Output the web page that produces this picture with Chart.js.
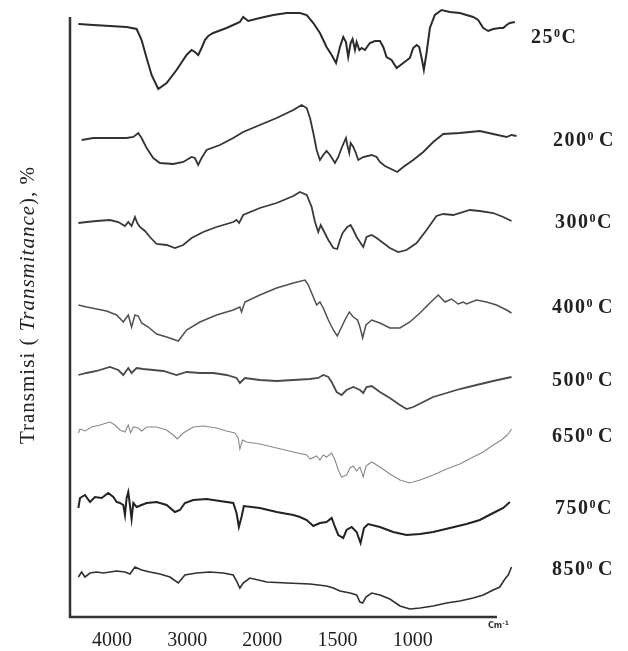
<!DOCTYPE html>
<html><head><meta charset="utf-8">
<script src="https://cdn.jsdelivr.net/npm/chart.js@4.4.0/dist/chart.umd.min.js"></script>
<style>html,body{margin:0;padding:0;background:#fff;}#wrap{width:628px;height:651px;}</style>
</head><body><div id="wrap"><canvas id="c" width="628" height="651"></canvas></div>
<script>
// x tick labels (wavenumber, cm-1)
const tickWavenumbers = [4000, 3000, 2000, 1500, 1000];
// series labels (temperature, deg C)
const temps = ['25', '200', '300', '400', '500', '650', '750', '850'];
const tempSpaced = [false, true, false, true, true, true, false, true];
// spectra: [wavenumber cm-1, relative transmittance (stacked, arbitrary units)]
const s25 = [[4447,593],[4248,592],[4027,591],[3805,590],[3672,588],[3606,577],[3539,559],[3473,542],[3384,528],[3273,534],[3141,547],[3008,562],[2941,567],[2897,565],[2853,562],[2808,569],[2764,577],[2720,581],[2653,584],[2476,589],[2299,595],[2255,600],[2188,596],[2033,599],[1927,602],[1838,604],[1750,604],[1705,602],[1661,594],[1617,584],[1595,577],[1573,570],[1539,562],[1510,554],[1484,570],[1462,580],[1444,575],[1429,560],[1413,574],[1400,578],[1384,567],[1373,575],[1355,567],[1340,569],[1318,567],[1285,574],[1251,576],[1218,576],[1196,570],[1174,560],[1141,557],[1107,549],[1063,554],[1019,559],[997,569],[974,572],[957,570],[941,559],[926,547],[908,564],[886,589],[853,602],[808,607],[753,605],[687,604],[598,600],[565,597],[531,589],[498,586],[465,588],[421,589],[398,589],[376,592],[354,594],[321,595]];
const s200 = [[4403,477],[4248,479],[4027,479],[3805,479],[3716,480],[3650,484],[3606,479],[3539,469],[3451,459],[3362,454],[3185,453],[3052,455],[2941,460],[2897,459],[2853,452],[2808,459],[2742,467],[2565,472],[2387,479],[2255,485],[2033,492],[1905,499],[1794,507],[1739,512],[1705,509],[1683,499],[1661,484],[1639,467],[1617,457],[1595,462],[1573,466],[1550,462],[1517,454],[1495,460],[1473,469],[1444,479],[1435,472],[1422,464],[1413,474],[1395,470],[1378,464],[1362,457],[1329,460],[1273,462],[1240,460],[1218,455],[1185,451],[1130,447],[1103,445],[1063,450],[997,457],[930,465],[864,475],[797,483],[687,484],[554,486],[465,483],[376,480],[343,482],[310,481]];
const s300 = [[4447,394],[4337,395],[4204,396],[4027,397],[3916,395],[3827,391],[3783,395],[3739,391],[3694,400],[3663,394],[3628,390],[3561,386],[3495,380],[3406,373],[3273,372],[3163,369],[3052,372],[2941,379],[2786,385],[2609,390],[2387,395],[2343,397],[2308,394],[2255,402],[2033,409],[1905,414],[1794,421],[1750,425],[1705,422],[1672,410],[1650,395],[1628,385],[1612,392],[1595,387],[1561,377],[1528,369],[1502,368],[1484,377],[1466,384],[1435,390],[1413,392],[1395,387],[1373,380],[1351,375],[1329,370],[1307,380],[1273,382],[1240,379],[1196,374],[1152,369],[1096,365],[1041,367],[974,374],[908,387],[842,401],[797,403],[731,402],[620,407],[554,406],[465,404],[398,400],[343,396]];
const s400 = [[4447,312],[4337,310],[4204,308],[4071,306],[3938,302],[3849,295],[3783,302],[3739,290],[3694,302],[3650,301],[3606,294],[3517,290],[3406,283],[3273,280],[3118,276],[3008,287],[2830,295],[2609,302],[2387,307],[2299,310],[2277,305],[2232,315],[2033,322],[1905,329],[1794,334],[1716,337],[1694,332],[1661,320],[1639,312],[1617,315],[1595,309],[1561,297],[1528,287],[1502,281],[1473,290],[1451,297],[1422,305],[1395,300],[1367,297],[1351,290],[1333,279],[1311,292],[1273,297],[1218,294],[1152,289],[1085,289],[1019,295],[952,304],[886,314],[830,322],[786,315],[742,318],[698,313],[664,315],[642,313],[576,317],[509,315],[443,312],[376,307],[343,304]];
const s500 = [[4447,242],[4337,244],[4204,246],[4027,250],[3916,247],[3849,242],[3783,249],[3739,244],[3672,249],[3584,248],[3451,247],[3318,246],[3141,242],[3008,245],[2830,244],[2653,244],[2476,242],[2343,239],[2299,234],[2232,239],[2033,237],[1905,236],[1794,237],[1683,238],[1628,239],[1595,242],[1561,240],[1539,235],[1506,225],[1473,222],[1440,227],[1395,230],[1351,227],[1329,224],[1307,230],[1273,231],[1218,225],[1152,219],[1085,212],[1041,208],[997,210],[930,215],[864,220],[775,224],[687,228],[576,232],[465,236],[343,240]];
const s650 = [[4447,184],[4425,188],[4359,186],[4270,190],[4159,192],[4027,195],[3960,192],[3894,187],[3827,185],[3783,192],[3752,184],[3716,190],[3650,189],[3606,186],[3539,190],[3406,190],[3273,187],[3185,182],[3132,178],[3052,184],[2919,190],[2786,191],[2609,189],[2476,186],[2365,184],[2321,179],[2299,168],[2263,177],[2210,175],[2033,173],[1905,169],[1794,165],[1705,162],[1683,158],[1639,161],[1617,157],[1595,162],[1573,160],[1539,164],[1517,157],[1495,147],[1473,140],[1440,142],[1417,149],[1395,151],[1373,146],[1351,150],[1329,140],[1311,151],[1273,155],[1218,150],[1152,143],[1085,137],[1019,134],[952,137],[864,142],[775,148],[687,153],[598,160],[531,165],[465,172],[410,177],[387,180],[365,183],[343,188]];
const s750 = [[4447,109],[4425,119],[4359,122],[4292,115],[4226,120],[4137,119],[4049,124],[3982,120],[3938,115],[3894,114],[3849,112],[3827,102],[3805,119],[3783,125],[3761,112],[3739,98],[3716,114],[3672,110],[3606,112],[3539,114],[3406,115],[3273,112],[3163,105],[3096,107],[3030,114],[2919,117],[2742,118],[2565,116],[2387,114],[2343,104],[2312,90],[2277,100],[2246,111],[2033,109],[1905,105],[1794,102],[1750,100],[1705,97],[1661,91],[1617,94],[1573,95],[1539,99],[1517,90],[1495,82],[1462,79],[1440,87],[1406,90],[1373,85],[1347,74],[1324,89],[1296,93],[1218,90],[1130,85],[1041,82],[952,83],[864,85],[753,89],[642,93],[554,97],[465,104],[398,109],[354,115]];
const s850 = [[4447,40],[4403,45],[4359,40],[4292,44],[4204,45],[4115,44],[4027,45],[3938,46],[3827,45],[3761,43],[3694,50],[3606,47],[3495,45],[3362,43],[3229,40],[3118,34],[3030,42],[2875,44],[2698,45],[2520,44],[2387,42],[2343,36],[2299,29],[2255,34],[2166,39],[1971,35],[1838,34],[1683,33],[1573,31],[1528,29],[1484,26],[1417,24],[1373,22],[1351,15],[1333,14],[1311,20],[1273,24],[1218,22],[1152,18],[1085,11],[1019,8],[952,9],[864,11],[775,14],[687,16],[598,19],[531,22],[465,27],[421,30],[387,38],[365,42],[343,50]];

const spectra = [s25, s200, s300, s400, s500, s650, s750, s850];
const lineColors = ['#2b2b2b', '#333333', '#3a3a3a', '#505050', '#4a4a4a', '#8a8a8a', '#222222', '#303030'];
const lineWidths = [2, 1.8, 1.8, 1.5, 1.8, 1.1, 2, 1.6];
const labelPos = [[531, 38], [553, 141], [555, 223], [552, 308], [552, 381], [552, 437], [555, 509], [552, 570]];

// IR x axis: scale changes at 2000 cm-1 (1000 per unit above, 500 per unit below)
function toU(w) { return w >= 2000 ? (4000 - w) / 1000 : 2 + (2000 - w) / 500; }
function fromU(u) { return u <= 2 ? 4000 - 1000 * u : 2000 - 500 * (u - 2); }

const SERIF = '"Liberation Serif", "Times New Roman", "DejaVu Serif", serif';

const decor = {
  id: 'decor',
  afterDatasetsDraw(chart) {
    const ctx = chart.ctx, a = chart.chartArea, xs = chart.scales.x;
    ctx.save();
    // axes
    ctx.strokeStyle = '#333';
    ctx.lineWidth = 2.5;
    ctx.beginPath();
    ctx.moveTo(a.left, a.top);
    ctx.lineTo(a.left, a.bottom);
    ctx.lineTo(xs.getPixelForValue(toU(440)), a.bottom);
    ctx.stroke();
    // Cm-1
    ctx.fillStyle = '#333';
    ctx.textBaseline = 'middle';
    ctx.font = 'bold 8px "DejaVu Sans", sans-serif';
    ctx.fillText('Cm', 488, 626);
    const cw = ctx.measureText('Cm').width;
    ctx.font = 'bold 6px "DejaVu Sans", sans-serif';
    ctx.fillText('-1', 488 + cw, 623);
    // temperature labels
    ctx.fillStyle = '#222';
    if ('letterSpacing' in ctx) ctx.letterSpacing = '1.5px';
    temps.forEach((t, i) => {
      let [x, y] = labelPos[i];
      ctx.font = 'bold 20px ' + SERIF;
      ctx.fillText(t, x, y);
      x += ctx.measureText(t).width;
      ctx.font = 'bold 12px ' + SERIF;
      ctx.fillText('0', x, y - 4);
      x += ctx.measureText('0').width + (tempSpaced[i] ? 4 : 0);
      ctx.font = 'bold 20px ' + SERIF;
      ctx.fillText('C', x, y);
    });
    // y title
    if ('letterSpacing' in ctx) ctx.letterSpacing = '1px';
    const parts = [['Transmisi ( ', '21px ' + SERIF], ['Transmitance', 'italic 21px ' + SERIF], ['), %', '21px ' + SERIF]];
    let total = 0;
    parts.forEach(p => { ctx.font = p[1]; total += ctx.measureText(p[0]).width; });
    ctx.translate(28, 305);
    ctx.rotate(-Math.PI / 2);
    let px = -total / 2;
    parts.forEach(p => { ctx.font = p[1]; ctx.fillText(p[0], px, 0); px += ctx.measureText(p[0]).width; });
    ctx.restore();
  }
};

new Chart(document.getElementById('c'), {
  type: 'line',
  data: {
    datasets: spectra.map((s, i) => ({
      label: temps[i] + ' °C',
      data: s.map(p => ({ x: toU(p[0]), y: p[1] })),
      borderColor: lineColors[i],
      borderWidth: lineWidths[i],
      pointRadius: 0,
      tension: 0,
      fill: false,
      clip: false
    }))
  },
  options: {
    responsive: false,
    animation: false,
    events: [],
    layout: { padding: { left: 70, right: 110, top: 17, bottom: 0 } },
    plugins: { legend: { display: false }, tooltip: { enabled: false } },
    scales: {
      x: {
        type: 'linear',
        min: toU(4558),
        max: toU(300),
        grid: { display: false, drawTicks: false },
        border: { display: false },
        afterBuildTicks: axis => { axis.ticks = tickWavenumbers.map(w => ({ value: toU(w) })); },
        afterFit: scale => { scale.height = 34; },
        ticks: {
          padding: 12,
          maxRotation: 0,
          autoSkip: false,
          color: '#1e1e1e',
          font: { family: SERIF, size: 20 },
          callback: v => String(Math.round(fromU(v)))
        }
      },
      y: { display: false, min: 0, max: 600 }
    }
  },
  plugins: [decor]
});
</script></body></html>
